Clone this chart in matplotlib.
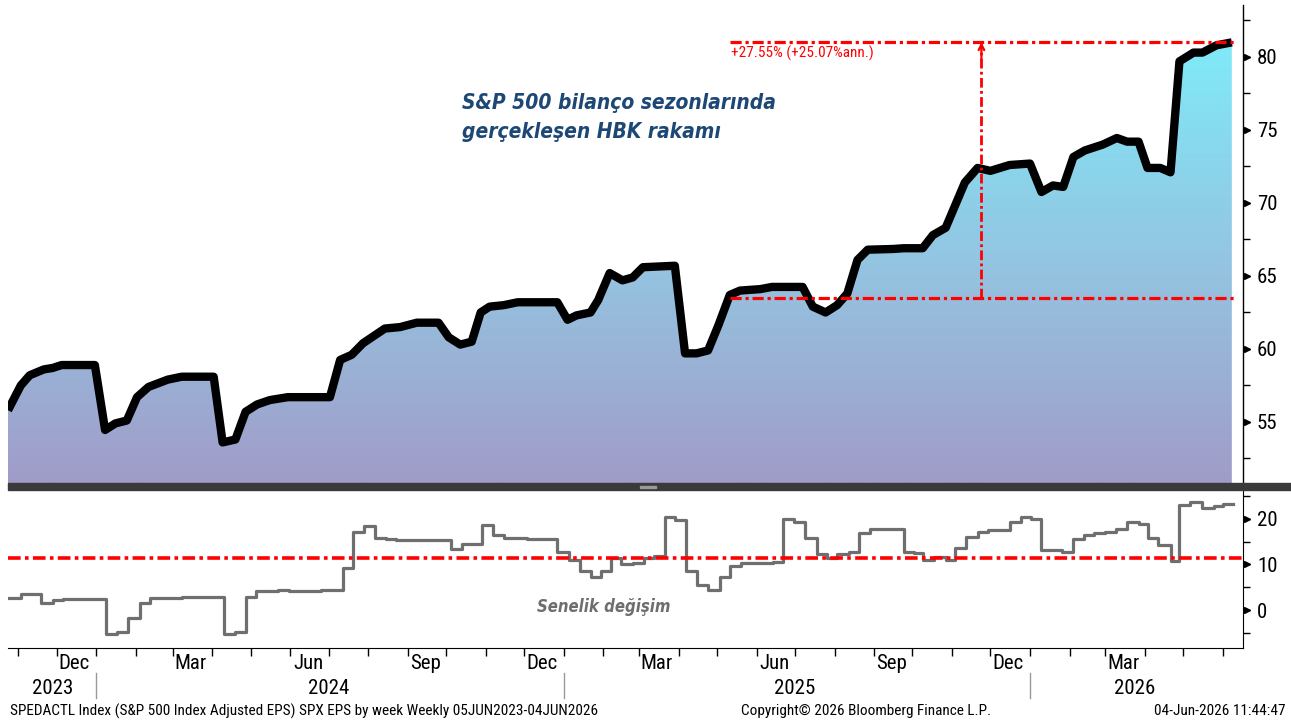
import matplotlib
matplotlib.use('Agg')
import matplotlib.pyplot as plt
import matplotlib.dates as mdates
import numpy as np
import pandas as pd
from matplotlib import font_manager as fm
from matplotlib.colors import LinearSegmentedColormap
from matplotlib.patches import Rectangle, Polygon
from matplotlib.font_manager import FontProperties

# ---------------- data ----------------
eps_dates = [
    '2023-10-24', '2023-11-03', '2023-11-10', '2023-11-21', '2023-11-28', '2023-12-05', '2023-12-31',
    '2024-01-08', '2024-01-16', '2024-01-25', '2024-02-02', '2024-02-11', '2024-02-26', '2024-03-08',
    '2024-04-02', '2024-04-09', '2024-04-19', '2024-04-27', '2024-05-06', '2024-05-16', '2024-05-30',
    '2024-07-02', '2024-07-10', '2024-07-19', '2024-07-28', '2024-08-14', '2024-08-26', '2024-09-08',
    '2024-09-25', '2024-10-03', '2024-10-12', '2024-10-21', '2024-10-28', '2024-11-04', '2024-11-15',
    '2024-11-26', '2024-12-27', '2025-01-04', '2025-01-11', '2025-01-22', '2025-01-28', '2025-02-06',
    '2025-02-16', '2025-02-24', '2025-03-04', '2025-03-29', '2025-04-06', '2025-04-15', '2025-04-24',
    '2025-05-02', '2025-05-11', '2025-05-19', '2025-06-04', '2025-06-13', '2025-07-07', '2025-07-15',
    '2025-07-25', '2025-08-03', '2025-08-11', '2025-08-19', '2025-08-27', '2025-09-16', '2025-09-24',
    '2025-10-09', '2025-10-17', '2025-10-27', '2025-11-11', '2025-11-21', '2025-12-01', '2025-12-16',
    '2026-01-01', '2026-01-10', '2026-01-19', '2026-01-27', '2026-02-04', '2026-02-13', '2026-02-27',
    '2026-03-10', '2026-03-18', '2026-03-27', '2026-04-03', '2026-04-13', '2026-04-21', '2026-04-28',
    '2026-05-09', '2026-05-16', '2026-05-27', '2026-06-08']
eps_values = [
    55.8, 57.5, 58.2, 58.6, 58.7, 58.9, 58.9,
    54.45, 54.9, 55.1, 56.7, 57.4, 57.9, 58.1,
    58.1, 53.6, 53.8, 55.7, 56.2, 56.5, 56.7,
    56.7, 59.25, 59.6, 60.4, 61.4, 61.5, 61.8,
    61.8, 60.8, 60.3, 60.5, 62.5, 62.9, 63.0,
    63.2, 63.2, 62.0, 62.3, 62.5, 63.35, 65.2,
    64.7, 64.9, 65.6, 65.7, 59.7, 59.7, 59.9,
    61.6, 63.7, 64.0, 64.1, 64.25, 64.25, 62.9,
    62.5, 63.0, 63.8, 66.1, 66.8, 66.85, 66.9,
    66.9, 67.8, 68.3, 71.4, 72.4, 72.2, 72.6,
    72.7, 70.75, 71.2, 71.1, 73.15, 73.6, 74.0,
    74.45, 74.2, 74.2, 72.4, 72.4, 72.1, 79.7,
    80.3, 80.3, 80.8, 81.0]

yoy_dates = [
    '2023-10-24', '2023-11-03', '2023-11-19', '2023-11-28', '2023-12-06', '2024-01-09', '2024-01-17',
    '2024-01-26', '2024-02-04', '2024-02-12', '2024-03-08', '2024-04-10', '2024-04-19', '2024-04-27',
    '2024-05-05', '2024-05-22', '2024-05-31', '2024-06-25', '2024-07-12', '2024-07-20', '2024-07-29',
    '2024-08-06', '2024-08-15', '2024-08-23', '2024-10-05', '2024-10-13', '2024-10-29', '2024-11-07',
    '2024-11-15', '2024-12-03', '2024-12-27', '2025-01-05', '2025-01-14', '2025-01-22', '2025-01-30',
    '2025-02-07', '2025-02-15', '2025-02-24', '2025-03-05', '2025-03-13', '2025-03-21', '2025-03-29',
    '2025-04-07', '2025-04-15', '2025-04-24', '2025-05-03', '2025-05-11', '2025-05-20', '2025-06-14',
    '2025-06-22', '2025-06-30', '2025-07-09', '2025-07-18', '2025-07-26', '2025-08-03', '2025-08-12',
    '2025-08-20', '2025-08-29', '2025-09-24', '2025-10-02', '2025-10-09', '2025-10-18', '2025-10-27',
    '2025-11-03', '2025-11-12', '2025-11-21', '2025-11-29', '2025-12-16', '2025-12-25', '2026-01-02',
    '2026-01-10', '2026-01-26', '2026-02-04', '2026-02-12', '2026-02-20', '2026-03-01', '2026-03-09',
    '2026-03-18', '2026-03-27', '2026-04-03', '2026-04-11', '2026-04-21', '2026-04-28', '2026-05-06',
    '2026-05-16', '2026-05-25', '2026-06-01']
yoy_values = [
    2.6, 3.5, 1.6, 2.2, 2.4, -5.3, -4.8,
    -1.8, 1.5, 2.6, 2.8, -5.3, -4.8, 2.8,
    4.25, 4.5, 4.2, 4.5, 9.2, 17.2, 18.5,
    15.9, 15.5, 15.4, 13.3, 14.4, 18.75, 16.5,
    15.9, 15.6, 12.8, 11.0, 8.6, 7.2, 8.6,
    11.4, 10.0, 10.4, 11.4, 11.9, 20.5, 19.8,
    8.6, 5.5, 4.4, 7.2, 9.7, 10.3, 10.6,
    20.0, 19.4, 15.8, 12.2, 11.4, 12.2, 12.8,
    16.85, 17.7, 12.8, 12.45, 11.0, 11.7, 11.0,
    13.55, 16.1, 17.2, 17.6, 19.4, 20.5, 20.1,
    13.2, 12.8, 15.6, 16.5, 16.85, 17.2, 17.7,
    19.4, 18.9, 15.9, 14.3, 10.8, 23.1, 23.7,
    22.35, 22.9, 23.3]
yoy_end = '2026-06-09'
yoy_reference = 11.35

ann_start, ann_mid, ann_end = '2025-05-11', '2025-11-24', '2026-06-10'
ann_low, ann_high = 63.52, 81.02
ann_label = '+27.55% (+25.07%ann.)'

title_lines = ['S&P 500 bilanço sezonlarında', 'gerçekleşen HBK rakamı']
sub_label = 'Senelik değişim'
top_ticks = [55, 60, 65, 70, 75, 80]
bottom_ticks = [0, 10, 20]
month_label_dates = ['2023-12-15', '2024-03-15', '2024-06-15', '2024-09-15', '2024-12-15',
                     '2025-03-15', '2025-06-15', '2025-09-15', '2025-12-15', '2026-03-15']
month_labels = ['Dec', 'Mar', 'Jun', 'Sep', 'Dec', 'Mar', 'Jun', 'Sep', 'Dec', 'Mar']
year_labels = ['2023', '2024', '2025', '2026']
year_label_dates = ['2023-11-28', '2024-07-01', '2025-07-01', '2026-03-24']
year_breaks = ['2024-01-01', '2025-01-01', '2026-01-01']
footer_left = 'SPEDACTL Index (S&P 500 Index Adjusted EPS) SPX EPS by week Weekly 05JUN2023-04JUN2026'
footer_mid = 'Copyright© 2026 Bloomberg Finance L.P.'
footer_right = '04-Jun-2026 11:44:47'

# ---------------- fonts ----------------
names = {f.name for f in fm.fontManager.ttflist}
narrow_name = None
for c in ['Liberation Sans Narrow', 'Arial Narrow', 'Roboto Condensed', 'Open Sans Condensed']:
    if c in names:
        narrow_name = c
        break
has_dv_cond = any(f.name == 'DejaVu Sans' and f.stretch == 'condensed' for f in fm.fontManager.ttflist)


def nfont(size):
    if narrow_name:
        return FontProperties(family=narrow_name, size=size)
    if has_dv_cond:
        return FontProperties(family='DejaVu Sans', stretch='condensed', size=size * 0.85)
    return FontProperties(family='Liberation Sans', size=size * 0.85)


def bold_italic(size):
    if has_dv_cond:
        return FontProperties(family='DejaVu Sans', stretch='condensed', weight='bold', style='italic', size=size)
    return FontProperties(family='DejaVu Sans', weight='bold', style='italic', size=size * 0.9)

# ---------------- figure ----------------
W, H = 1291, 726
fig = plt.figure(figsize=(W / 100, H / 100), dpi=100)
fig.patch.set_facecolor('white')

xl0 = mdates.date2num(pd.Timestamp('2023-10-24'))
xl1 = mdates.date2num(pd.Timestamp('2026-06-16 18:00'))

ax = fig.add_axes([8 / W, 243 / H, 1235 / W, 478 / H])
ax2 = fig.add_axes([8 / W, 78 / H, 1235 / W, 158 / H])

ylo, yhi = 50.82, 83.56
ex = mdates.date2num(pd.to_datetime(eps_dates))
ey = np.array(eps_values)

cmap = LinearSegmentedColormap.from_list('g', [
    (0.0, '#A09CC8'), (0.42, '#95C1DF'), (0.92, '#80EAF8'), (1.0, '#7EF0FB')])
verts = [(ex[0], ylo)] + list(zip(ex, ey)) + [(ex[-1], ylo)]
poly = Polygon(verts, closed=True, facecolor='none', edgecolor='none')
ax.add_patch(poly)
grad = np.linspace(0, 1, 512).reshape(-1, 1)
im = ax.imshow(grad, extent=[xl0, xl1, ylo, yhi], origin='lower', aspect='auto', cmap=cmap, zorder=1)
im.set_clip_path(poly)
ax.plot(ex, ey, color='black', lw=6, solid_joinstyle='round', solid_capstyle='butt', zorder=3)

dd = (0, (3.5, 1.2, 1.0, 1.2))
a0 = mdates.date2num(pd.Timestamp(ann_start))
a1 = mdates.date2num(pd.Timestamp(ann_end))
am = mdates.date2num(pd.Timestamp(ann_mid))
ax.plot([a0, a1], [ann_high, ann_high], color='#FF0000', lw=2.3, ls=dd, zorder=4)
ax.plot([a0, a1], [ann_low, ann_low], color='#FF0000', lw=2.3, ls=dd, zorder=4)
ax.plot([am, am], [ann_low, ann_high - 0.3], color='#FF0000', lw=2.0, ls=dd, zorder=4)
ax.annotate('', xy=(am, ann_high), xytext=(am, ann_high - 1.2),
            arrowprops=dict(arrowstyle='->', color='#FF0000', lw=1.6,
                            shrinkA=0, shrinkB=0, mutation_scale=10), zorder=4)
ax.text(a0 + 1, ann_high - 0.25, ann_label, color='#FF0000', fontproperties=nfont(11),
        ha='left', va='top', zorder=5)

ax.set_xlim(xl0, xl1)
ax.set_ylim(ylo, yhi)
for s in ['left', 'top', 'bottom']:
    ax.spines[s].set_visible(False)
ax.spines['right'].set_color('black')
ax.spines['right'].set_linewidth(1.0)
ax.set_xticks([])
ax.yaxis.tick_right()
ax.set_yticks(top_ticks)
ax.set_yticks([t + 2.5 for t in top_ticks] + [top_ticks[0] - 2.5], minor=True)
ax.tick_params(axis='y', which='major', direction='out', length=5, width=1, pad=5)
ax.tick_params(axis='y', which='minor', direction='out', length=5, width=1)
for lab in ax.get_yticklabels():
    lab.set_fontproperties(nfont(15))
ax.plot([1.003] * len(top_ticks), top_ticks, ls='none', marker='>', ms=4, color='black',
        transform=ax.get_yaxis_transform(), clip_on=False)

fig.text(462 / W, 1 - 103 / H, title_lines[0], color='#1D4775', fontproperties=bold_italic(15),
         ha='left', va='center')
fig.text(462 / W, 1 - 132 / H, title_lines[1], color='#1D4775', fontproperties=bold_italic(15),
         ha='left', va='center')

# separator bar
fig.patches.append(Rectangle((8 / W, 236 / H), (W - 8) / W, 7 / H, transform=fig.transFigure,
                             color='#3a3a3a', zorder=10))
fig.patches.append(Rectangle((640 / W, 238.5 / H), 16 / W, 2 / H, transform=fig.transFigure,
                             color='#9a9a9a', zorder=11))

# ---------------- bottom panel ----------------
yx = mdates.date2num(pd.to_datetime(yoy_dates + [yoy_end]))
yv = list(yoy_values) + [yoy_values[-1]]
ax2.step(yx, yv, where='post', color='#6f6f6f', lw=2.3, zorder=3)
ax2.axhline(yoy_reference, color='#FF0000', lw=2.6, ls=dd, zorder=4)
ax2.text(537 / W, 1 - 607 / H, sub_label, transform=fig.transFigure, color='#6e6e6e',
         fontproperties=bold_italic(12), ha='left', va='center')

ax2.set_xlim(xl0, xl1)
ax2.set_ylim(-8.35, 26.37)
for s in ['left', 'top']:
    ax2.spines[s].set_visible(False)
ax2.yaxis.tick_right()
ax2.set_yticks(bottom_ticks)
ax2.set_yticks([-5, 5, 15, 25], minor=True)
ax2.tick_params(axis='y', which='major', direction='out', length=5, width=1, pad=5)
ax2.tick_params(axis='y', which='minor', direction='out', length=5, width=1)
for lab in ax2.get_yticklabels():
    lab.set_fontproperties(nfont(15))
ax2.plot([1.003] * len(bottom_ticks), bottom_ticks, ls='none', marker='>', ms=4, color='black',
         transform=ax2.get_yaxis_transform(), clip_on=False)

ax2.set_xticks(mdates.date2num(pd.to_datetime(month_label_dates)))
ax2.set_xticklabels(month_labels)
ax2.xaxis.set_minor_locator(mdates.MonthLocator())
ax2.tick_params(axis='x', which='major', length=0, pad=4)
ax2.tick_params(axis='x', which='minor', length=6, width=1, direction='out')
for lab in ax2.get_xticklabels():
    lab.set_fontproperties(nfont(15))

tr = ax2.get_xaxis_transform()
for lab, d in zip(year_labels, year_label_dates):
    ax2.text(mdates.date2num(pd.Timestamp(d)), -40 / 158, lab, transform=tr, ha='center', va='center',
             fontproperties=nfont(15))
for d in year_breaks:
    xb = mdates.date2num(pd.Timestamp(d))
    ax2.plot([xb, xb], [-25 / 158, -50 / 158], transform=tr, color='#999999', lw=1, clip_on=False)

fig.text(10 / W, 15 / H, footer_left, fontproperties=nfont(11), ha='left', va='center')
fig.text(866 / W, 15 / H, footer_mid, fontproperties=nfont(11), ha='center', va='center')
fig.text(1285 / W, 15 / H, footer_right, fontproperties=nfont(11), ha='right', va='center')

fig.savefig('out.png', dpi=100, facecolor='white')
